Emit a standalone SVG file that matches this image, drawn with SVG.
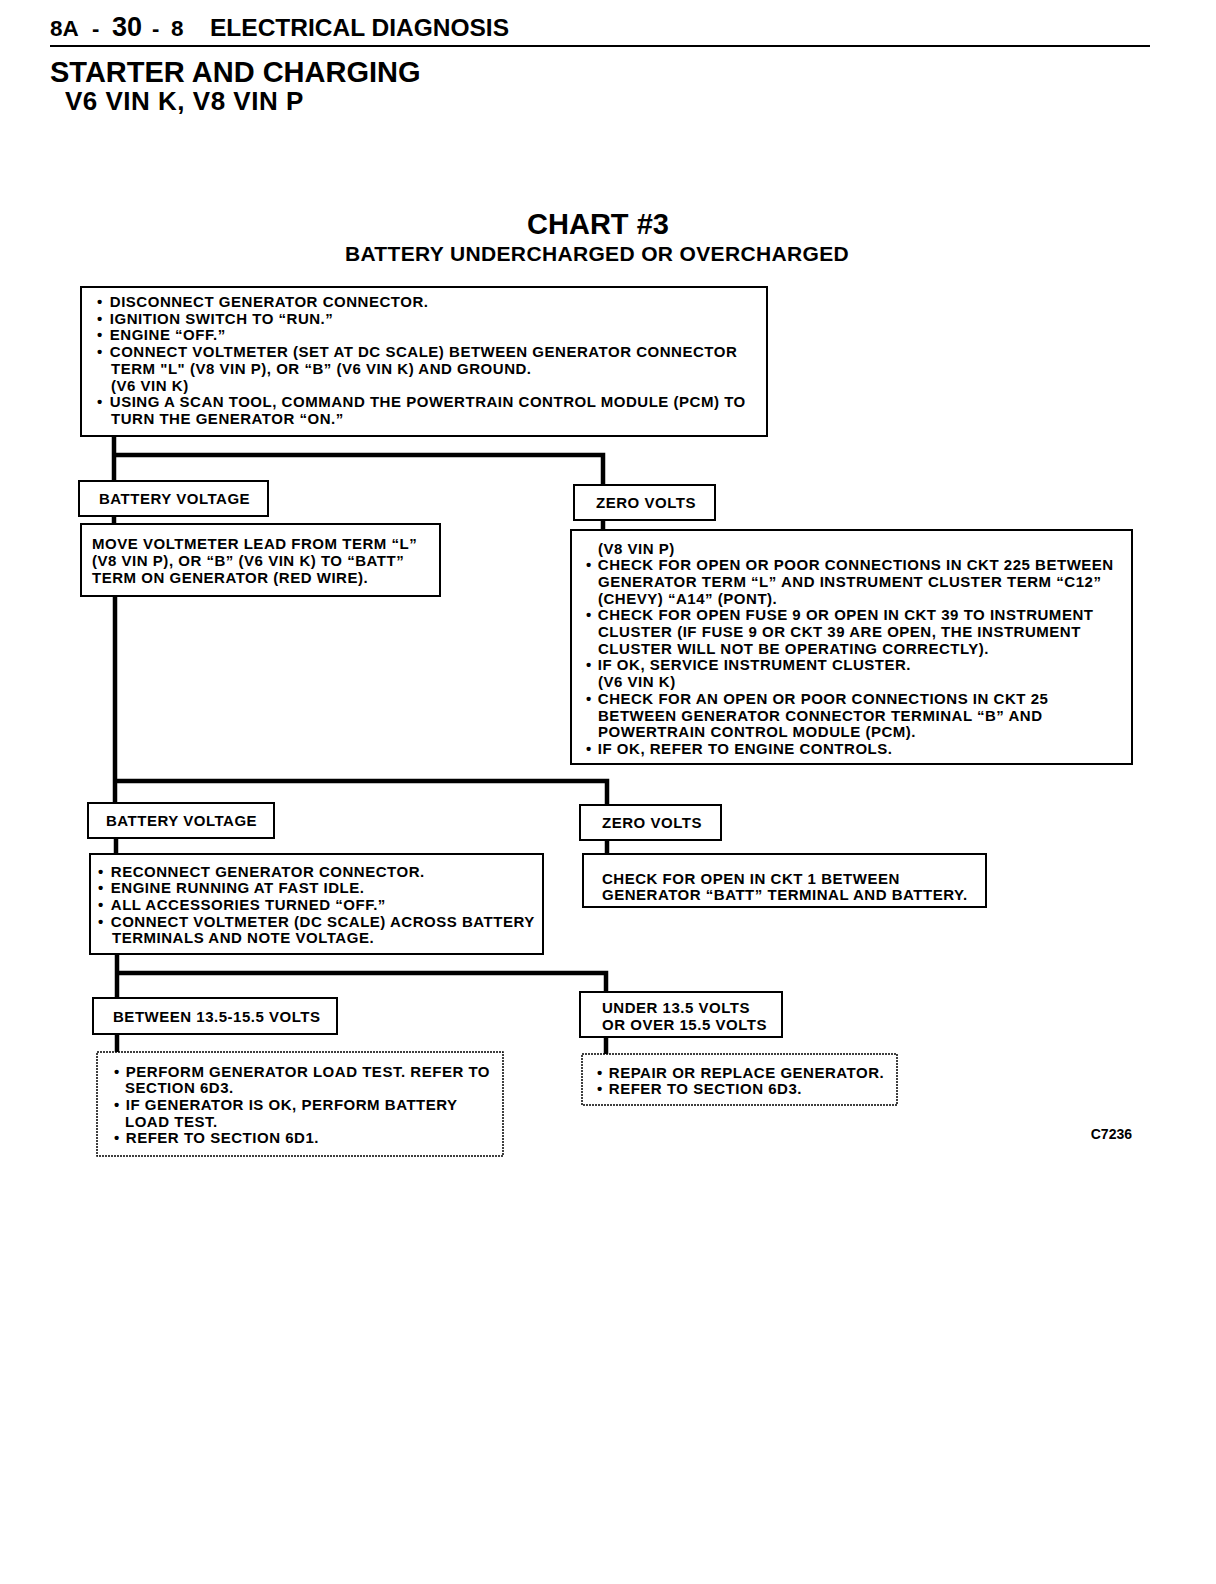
<svg xmlns="http://www.w3.org/2000/svg" width="1216" height="1584" viewBox="0 0 1216 1584">
<style>
text{font-family:"Liberation Sans",Arial,sans-serif;font-weight:bold;fill:#000}
.t{font-size:15px;letter-spacing:0.52px}
.box{fill:#fff;stroke:#000;stroke-width:2}
.dash{fill:#fff;stroke:#000;stroke-width:1.5;stroke-dasharray:2 1}
.con{fill:none;stroke:#000;stroke-width:4.5;stroke-linejoin:miter;stroke-linecap:square}
</style>
<rect width="1216" height="1584" fill="#fff"/>
<g id="header">
<text x="50" y="36" font-size="22.5">8A</text>
<text x="92" y="36" font-size="22">-</text>
<text x="112" y="36" font-size="27">30</text>
<text x="152" y="36" font-size="22">-</text>
<text x="171" y="36" font-size="22.5">8</text>
<text x="210" y="36" font-size="24.5">ELECTRICAL DIAGNOSIS</text>
<line x1="50" y1="46" x2="1150" y2="46" stroke="#000" stroke-width="2"/>
<text x="50" y="82" font-size="29">STARTER AND CHARGING</text>
<text x="65" y="110" font-size="26" letter-spacing="0.5">V6 VIN K, V8 VIN P</text>
<text x="598" y="234" font-size="29" text-anchor="middle">CHART #3</text>
<text x="597" y="261" font-size="21" letter-spacing="0.35" text-anchor="middle">BATTERY UNDERCHARGED OR OVERCHARGED</text>
</g>
<g id="connectors">
<path class="con" d="M114 436 V481 M114 455 H603 V485 M114 516 V524 M603 520 V530 M115 596 V803 M115 781 H607 V805 M116 838 V854 M607 840 V854 M117 954 V998 M117 973 H606 V992 M117 1034 V1052 M606 1037 V1054"/>
</g>
<g id="n1">
<rect class="box" x="81" y="287" width="686" height="149"/>
<text class="t" x="97" y="307">•<tspan dx="7">DISCONNECT GENERATOR CONNECTOR.</tspan></text>
<text class="t" x="97" y="323.7">•<tspan dx="7">IGNITION SWITCH TO “RUN.”</tspan></text>
<text class="t" x="97" y="340.4">•<tspan dx="7">ENGINE “OFF.”</tspan></text>
<text class="t" x="97" y="357.1">•<tspan dx="7">CONNECT VOLTMETER (SET AT DC SCALE) BETWEEN GENERATOR CONNECTOR</tspan></text>
<text class="t" x="111" y="373.8">TERM "L" (V8 VIN P), OR “B” (V6 VIN K) AND GROUND.</text>
<text class="t" x="111" y="390.5">(V6 VIN K)</text>
<text class="t" x="97" y="407.2">•<tspan dx="7">USING A SCAN TOOL, COMMAND THE POWERTRAIN CONTROL MODULE (PCM) TO</tspan></text>
<text class="t" x="111" y="423.9">TURN THE GENERATOR “ON.”</text>
</g>
<g id="n2">
<rect class="box" x="79" y="481" width="189" height="35"/>
<text class="t" x="99" y="504">BATTERY VOLTAGE</text>
</g>
<g id="n3">
<rect class="box" x="81" y="524" width="359" height="72"/>
<text class="t" x="92" y="549">MOVE VOLTMETER LEAD FROM TERM “L”</text>
<text class="t" x="92" y="566">(V8 VIN P), OR “B” (V6 VIN K) TO “BATT”</text>
<text class="t" x="92" y="583">TERM ON GENERATOR (RED WIRE).</text>
</g>
<g id="n4">
<rect class="box" x="574" y="485" width="141" height="35"/>
<text class="t" x="596" y="508">ZERO VOLTS</text>
</g>
<g id="n5">
<rect class="box" x="571" y="530" width="561" height="234"/>
<text class="t" x="598" y="553.5">(V8 VIN P)</text>
<text class="t" x="586" y="570.2">•<tspan dx="6">CHECK FOR OPEN OR POOR CONNECTIONS IN CKT 225 BETWEEN</tspan></text>
<text class="t" x="598" y="586.9">GENERATOR TERM “L” AND INSTRUMENT CLUSTER TERM “C12”</text>
<text class="t" x="598" y="603.6">(CHEVY) “A14” (PONT).</text>
<text class="t" x="586" y="620.3">•<tspan dx="6">CHECK FOR OPEN FUSE 9 OR OPEN IN CKT 39 TO INSTRUMENT</tspan></text>
<text class="t" x="598" y="637">CLUSTER (IF FUSE 9 OR CKT 39 ARE OPEN, THE INSTRUMENT</text>
<text class="t" x="598" y="653.7">CLUSTER WILL NOT BE OPERATING CORRECTLY).</text>
<text class="t" x="586" y="670.4">•<tspan dx="6">IF OK, SERVICE INSTRUMENT CLUSTER.</tspan></text>
<text class="t" x="598" y="687.1">(V6 VIN K)</text>
<text class="t" x="586" y="703.8">•<tspan dx="6">CHECK FOR AN OPEN OR POOR CONNECTIONS IN CKT 25</tspan></text>
<text class="t" x="598" y="720.5">BETWEEN GENERATOR CONNECTOR TERMINAL “B” AND</text>
<text class="t" x="598" y="737.2">POWERTRAIN CONTROL MODULE (PCM).</text>
<text class="t" x="586" y="753.9">•<tspan dx="6">IF OK, REFER TO ENGINE CONTROLS.</tspan></text>
</g>
<g id="n6">
<rect class="box" x="88" y="803" width="186" height="35"/>
<text class="t" x="106" y="826">BATTERY VOLTAGE</text>
</g>
<g id="n7">
<rect class="box" x="580" y="805" width="141" height="35"/>
<text class="t" x="602" y="828">ZERO VOLTS</text>
</g>
<g id="n8">
<rect class="box" x="90" y="854" width="453" height="100"/>
<text class="t" x="98" y="876.5">•<tspan dx="7">RECONNECT GENERATOR CONNECTOR.</tspan></text>
<text class="t" x="98" y="893.2">•<tspan dx="7">ENGINE RUNNING AT FAST IDLE.</tspan></text>
<text class="t" x="98" y="909.9">•<tspan dx="7">ALL ACCESSORIES TURNED “OFF.”</tspan></text>
<text class="t" x="98" y="926.6">•<tspan dx="7">CONNECT VOLTMETER (DC SCALE) ACROSS BATTERY</tspan></text>
<text class="t" x="112" y="943.3">TERMINALS AND NOTE VOLTAGE.</text>
</g>
<g id="n9">
<rect class="box" x="583" y="854" width="403" height="53"/>
<text class="t" x="602" y="883.5">CHECK FOR OPEN IN CKT 1 BETWEEN</text>
<text class="t" x="602" y="900">GENERATOR “BATT” TERMINAL AND BATTERY.</text>
</g>
<g id="n10">
<rect class="box" x="93" y="998" width="244" height="36"/>
<text class="t" x="113" y="1021.5">BETWEEN 13.5-15.5 VOLTS</text>
</g>
<g id="n11">
<rect class="box" x="580" y="992" width="202" height="45"/>
<text class="t" x="602" y="1012.5">UNDER 13.5 VOLTS</text>
<text class="t" x="602" y="1029.5">OR OVER 15.5 VOLTS</text>
</g>
<g id="n12">
<rect class="dash" x="97" y="1052" width="406" height="104"/>
<text class="t" x="114" y="1076.5">•<tspan dx="6">PERFORM GENERATOR LOAD TEST. REFER TO</tspan></text>
<text class="t" x="125" y="1093.2">SECTION 6D3.</text>
<text class="t" x="114" y="1109.9">•<tspan dx="6">IF GENERATOR IS OK, PERFORM BATTERY</tspan></text>
<text class="t" x="125" y="1126.6">LOAD TEST.</text>
<text class="t" x="114" y="1143.3">•<tspan dx="6">REFER TO SECTION 6D1.</tspan></text>
</g>
<g id="n13">
<rect class="dash" x="582" y="1054" width="315" height="51"/>
<text class="t" x="597" y="1077.5">•<tspan dx="6">REPAIR OR REPLACE GENERATOR.</tspan></text>
<text class="t" x="597" y="1094.2">•<tspan dx="6">REFER TO SECTION 6D3.</tspan></text>
</g>
<text x="1132" y="1139" font-size="14" text-anchor="end">C7236</text>
</svg>
